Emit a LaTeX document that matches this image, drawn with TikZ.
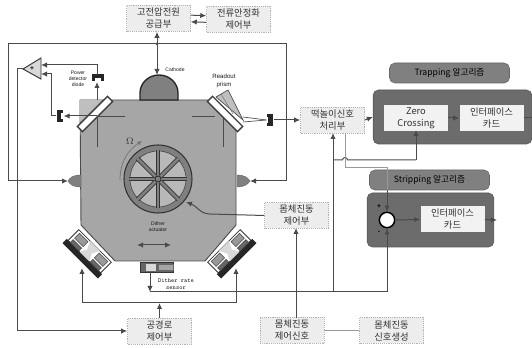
\documentclass[tikz,border=0pt]{standalone}
\usepackage{fontspec}
\setmainfont{Liberation Sans}
\newfontfamily\krfont{Noto Sans CJK KR}
\usetikzlibrary{arrows.meta,calc}
\definecolor{wire}{HTML}{4A4A4A}
\definecolor{bodyg}{HTML}{A6A6A6}
\definecolor{panelg}{HTML}{6C6C6C}
\definecolor{headg}{HTML}{808080}
\tikzset{
  wirel/.style={draw=wire,line width=0.75pt},
  lightw/.style={draw=gray!80,line width=0.75pt},
  arr/.style={wirel,-{Latex[length=4.5pt,width=4pt]}},
  darr/.style={wirel,{Latex[length=4.5pt,width=4pt]}-{Latex[length=4.5pt,width=4pt]}},
  kbox/.style={draw=black!30,densely dotted,fill=black!7,inner sep=0pt,minimum width=48pt,minimum height=19.5pt,align=center,font=\krfont\fontsize{7}{9}\selectfont,text=black!80},
  wbox/.style={kbox,fill=black!5,draw=none},
  panel/.style={fill=panelg,draw=black!65,rounded corners=4pt,line width=0.5pt,inner sep=0pt},
  header/.style={fill=headg,draw=black!60,rounded corners=4pt,inner sep=0pt,minimum width=90pt,minimum height=15pt,font=\krfont\fontsize{6.5}{8}\selectfont,text=black},
  mirrorbar/.style={draw=black!75,fill=white,line width=1pt,inner sep=0pt,minimum width=32pt,minimum height=5.5pt},
  det/.style={fill=black!85,inner sep=0pt},
  tiny/.style={font=\fontsize{3.8}{4.5}\selectfont,align=center,text=black!90,inner sep=0pt},
  sumc/.style={circle,draw=black,line width=1.1pt,fill=white,minimum size=11.5pt,inner sep=0pt}
}
\begin{document}
\begin{tikzpicture}[x=0.75pt,y=-0.75pt]
\useasboundingbox (0,0) rectangle (532,348);
\coordinate (jtop) at (157,44);
\coordinate (ltop) at (8,44);
\coordinate (rtop) at (286,44);
% ---- body
\fill[bodyg,draw=black!70,line width=0.7pt] (80,100) -- (208,100) -- (236,128) -- (236,225) -- (205,261) -- (115,261) -- (81,225) -- cycle;
\fill[black!25] (80,100) -- (102,100) -- (80,122) -- cycle;
% cathode
\fill[black!50,draw=black!85,line width=1pt] (140,100) -- (140,93) arc[start angle=180,end angle=360,x radius=19,y radius=18] -- (178,100) -- cycle;
\coordinate (cath) at (157,75);
% getters
\fill[black!50,draw=black!60,line width=0.3pt] (81,175) .. controls (72,175) and (70,178) .. (68,181) .. controls (70,184) and (72,187) .. (81,187) -- cycle;
\fill[black!50,draw=black!60,line width=0.3pt] (237,175) .. controls (245,175) and (248,178) .. (250,181) .. controls (248,184) and (245,187) .. (237,187) -- cycle;
\coordinate (gl) at (68,181);
\coordinate (gr) at (250,181);
% inner beams
\coordinate (mlc) at (97,116);
\coordinate (mrc) at (223,116);
\draw[wirel,line width=0.5pt] (125,116) -- (mlc);
\draw[wirel,line width=0.5pt] (97,147) -- (mlc);
\draw[wirel,line width=0.5pt] (192,116) -- (215,116);
\draw[wirel,line width=0.5pt] (223,116) -- (223,147);
% prism
\fill[black!25,draw=black!70,line width=0.5pt] (216,97) -- (228,90) -- (243,120) -- cycle;
\draw[black!60,line width=0.3pt] (221,94) -- (233,114);
\node[mirrorbar,rotate=45] (ml) at (95,114) {};
\node[mirrorbar,rotate=-45] (mr) at (225,114) {};
% wheel
\begin{scope}[shift={(158,179)}]
\fill[black!50,draw=black!80,line width=0.8pt] (0,0) circle[radius=34];
\fill[black!28,draw=black!70,line width=0.5pt] (0,0) circle[radius=28];
\foreach \a in {0,45,...,315}{
  \draw[black!80,line width=3.4pt] (0,0) -- (\a:29);
}
\foreach \a in {0,45,...,315}{
  \draw[black!50,line width=2pt] (0,0) -- (\a:31);
}
\fill[black!50,draw=black!85,line width=0.6pt] (0,0) circle[radius=3];
\end{scope}
\node[inner sep=0pt,font=\fontsize{7}{8}\selectfont,text=black!80] (omega) at (130,141) {$\Omega$};
\draw[black!55,line width=0.5pt,-{Latex[length=3.5pt,width=3pt]}] (120,180) .. controls (120,162) and (128,150) .. (142,141);
% dither text
\node[tiny] (actu) at (158,227) {Dither\\actuator};
\coordinate (dl) at (137,245);
\coordinate (dr) at (171,245);
\draw[darr] (dl) -- (dr);
% sensor
\fill[black!60,draw=black!80,line width=0.4pt] (140,262) rectangle (173,272);
\fill[black!15] (146,264) rectangle (156,271);
\fill[black!35,draw=black!60,line width=0.3pt] (158,264) rectangle (173,270);
\coordinate (sens) at (150,272);
\node[tiny,font=\ttfamily\fontsize{4.6}{5.2}\selectfont] at (176,284) {Dither rate\\sensor};
% bottom mirrors
\foreach \sx/\cx in {1/88,-1/231}{
\begin{scope}[shift={(\cx,253)},xscale=\sx,rotate=-45]
\fill[black!85] (-25,5) rectangle (25,11);
\fill[white,draw=black!80,line width=0.6pt] (-23,-10) rectangle (23,5);
\fill[black!40,draw=black!70,line width=0.4pt] (-20,-8) rectangle (-8,-1);
\fill[black!40,draw=black!70,line width=0.4pt] (8,-8) rectangle (20,-1);
\fill[black!60,draw=black!70,line width=0.4pt] (-20,1) rectangle (-8,5);
\fill[black!60,draw=black!70,line width=0.4pt] (8,1) rectangle (20,5);
\fill[black!15] (-7,-10) -- (7,-10) -- (3,-2) -- (7,5) -- (-7,5) -- (-3,-2) -- cycle;
\end{scope}}
\coordinate (mbl) at (82,268);
\coordinate (mbr) at (236,268);
% boxes
\node[kbox] (hv) at (158.5,18.5) {고전압전원\\공급부};
\node[kbox] (reg) at (238.5,19) {전류안정화\\제어부};
\node[kbox] (sig) at (332.5,120) {떡놀이신호\\처리부};
\node[kbox] (bodyc) at (296.5,215.5) {몸체진동\\제어부};
\node[kbox] (path) at (159.5,331) {공경로\\제어부};
\node[kbox] (bsig) at (292,330.5) {몸체진동\\제어신호};
\node[kbox] (bgen) at (391.5,330.5) {몸체진동\\신호생성};
% panels
\node[panel,minimum width=119pt,minimum height=40.5pt] (tp) at (452.5,117) {};
\node[header] (th) at (449.5,73) {Trapping 알고리즘};
\node[panel,minimum width=95pt,minimum height=40.5pt] (sp) at (430.5,220) {};
\node[header] (sh) at (429.5,180) {Stripping 알고리즘};
\node[wbox] (zc) at (416,118) {Zero\\Crossing};
\node[wbox] (if1) at (491.5,118) {인터페이스\\카드};
\node[wbox] (if2) at (452.5,219.5) {인터페이스\\카드};
\node[sumc] (sum) at (387,220) {};
\node[inner sep=0pt,font=\fontsize{5}{6}\selectfont\bfseries] at (379,207) {+};
\node[inner sep=0pt,font=\fontsize{5}{6}\selectfont\bfseries] at (379,232) {-};
% detectors
\node[det,minimum width=8.5pt,minimum height=5pt] (d1) at (98,77.5) {};
\fill[white] (95,78) rectangle (101,81);
\node[det,minimum width=5pt,minimum height=9pt] (d2) at (60,116) {};
\fill[white] (60.5,113) rectangle (64,119);
\node[det,minimum width=5pt,minimum height=9pt] (d3) at (270,120) {};
\fill[white] (265,117) rectangle (268,123);
\node[tiny] (pd) at (78,79) {Power\\detector\\diode};
\node[tiny] (cl) at (175,69.5) {Cathode};
\node[tiny,font=\fontsize{4.6}{5.4}\selectfont] (rp) at (224,81) {Readout\\prism};
% comparator
\fill[black!15,draw=black!80,line width=0.7pt] (23,69) -- (41,58) -- (41,79) -- cycle;
\node[inner sep=0pt,font=\fontsize{5}{6}\selectfont\bfseries] at (32,69) {+};
\coordinate (ct) at (23,69);
\coordinate (cu) at (41,65);
\coordinate (cl2) at (41,74);
% connectors
\draw[arr] ([yshift=-2.5pt]reg.west) -- ([yshift=-2.5pt]hv.east);
\draw[arr] ([yshift=2.5pt]hv.east) -- ([yshift=2.5pt]reg.west);
\draw[darr] (hv.south -| jtop) -- (cath);
\fill[wire] (jtop) circle[radius=1.5];
\draw[arr] (jtop) -- (ltop) -- (8,181) -- (gl);
\draw[arr] (jtop) -- (rtop) -- (286,181) -- (gr);
\draw[arr] (ct) -- (17,69) -- (17,331) -- (path.west);
\draw[arr] (97,100) -- (97,82);
\draw[arr] (97,75) -- (97,65) -- (cu);
\draw[arr] (mlc) -- (d2.east |- mlc);
\draw[arr] (d2.west) -- (51,116) -- (51,74) -- (cl2);
\draw[wirel,line width=0.5pt] (243,117) -- (d3.west);
\draw[wirel,line width=0.5pt] (243,122) -- (d3.west);
\draw[arr] (d3.east) -- (sig.west);
\draw[arr] (sig.east) -- (tp.west);
\draw[arr] (zc.east) -- (if1.west);
\draw[wirel] (if1.east) -- (532,118);
\draw[arr] (sum.east) -- (if2.west);
\draw[arr] (if2.east) -- (497,220);
\draw[arr] (bodyc.west) -- (210,214) .. controls (200,214) and (197,206) .. (186,202);
\draw[arr] (sens) -- (150,292);
\draw[wirel] (150,292) -- (387,292);
\draw[arr] (387,292) -- (sum.south);
\draw[arr] (333,292) -- (333,133);
\draw[wirel] (333,160) -- (342.5,160) arc[start angle=180,end angle=360,radius=2.5] -- (416,160);
\draw[arr] (416,160) -- (416,130);
\draw[lightw] (345,133) -- (345,168) -- (387,168) -- (387,190);
\draw[wirel] (387,190) -- (387,200);
\draw[arr] (387,200) -- (sum.north);
\draw[arr] (296,318) -- (296,228);
\draw[lightw] (bsig.east) -- (bgen.west);
\draw[arr] (path.north) -- (159.5,303);
\draw[arr] (159,303) -- (82,303) -- (mbl);
\draw[arr] (159,303) -- (236,303) -- (mbr);
\end{tikzpicture}
\end{document}
